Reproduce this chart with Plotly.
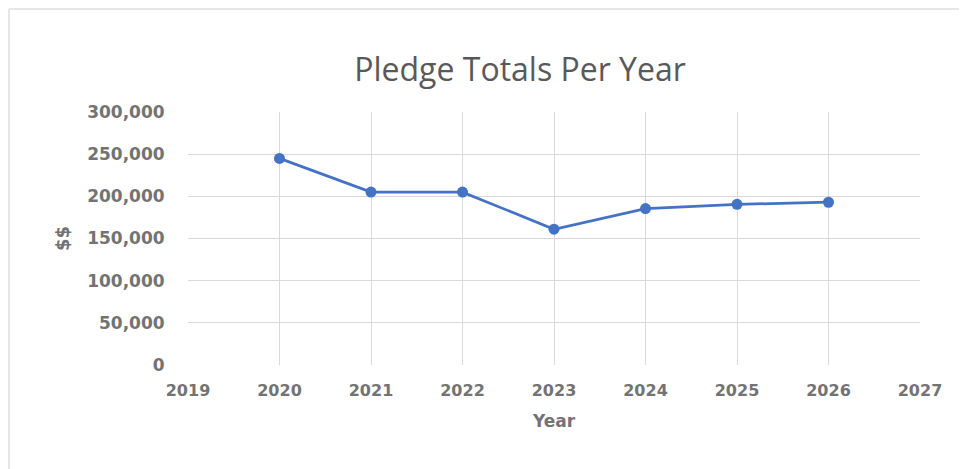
import plotly.graph_objects as go

years = [2020, 2021, 2022, 2023, 2024, 2025, 2026]
pledges = [245000, 205000, 205000, 161000, 185500, 190500, 193000]

title_text = "Pledge Totals Per Year"
x_title = "Year"
y_title = "$$"

# the page adds an 8px body margin, so the figure is sized for the rest of the window
W, H = 959, 461
ml, mr, mt, mb = 180, 47, 104, 104
pw, ph = W - ml - mr, H - mt - mb

grey = "#737373"
bold_font = "DejaVu Sans, Verdana, sans-serif"

fig = go.Figure()
fig.add_trace(go.Scatter(
    x=years, y=pledges, mode="lines+markers",
    line=dict(color="#4472C4", width=2.75),
    marker=dict(color="#4472C4", size=11),
    showlegend=False, hoverinfo="x+y",
))

fig.update_layout(
    width=W, height=H,
    margin=dict(l=ml, r=mr, t=mt, b=mb),
    paper_bgcolor="white", plot_bgcolor="white",
    title=dict(text=title_text, x=512 / W, xanchor="center",
               y=1 - 62 / H, yanchor="middle",
               font=dict(family="Open Sans, Liberation Sans, sans-serif", size=32, color="#595959")),
    xaxis=dict(range=[2019, 2027], dtick=1, tick0=2019, showgrid=True, gridcolor="#D9D9D9",
               gridwidth=1, zeroline=False, showline=False,
               ticks="outside", ticklen=11, tickcolor="rgba(0,0,0,0)",
               tickfont=dict(family=bold_font, size=16, color=grey, weight="bold"),
               title=dict(text=x_title, standoff=15,
                          font=dict(family=bold_font, size=17, color=grey, weight="bold"))),
    yaxis=dict(range=[0, 300000], dtick=50000, showgrid=True, gridcolor="#D9D9D9",
               gridwidth=1, zeroline=False, showline=False,
               ticks="outside", ticklen=19, tickcolor="rgba(0,0,0,0)",
               tickformat=",d",
               tickfont=dict(family=bold_font, size=17, color=grey, weight="bold"),
               title=dict(text=y_title, standoff=12,
                          font=dict(family=bold_font, size=18, color=grey, weight="bold"))),
    shapes=[
        dict(type="line", xref="paper", yref="paper",
             x0=(1 - ml) / pw, x1=(1 - ml) / pw, y0=(H - mb - 1) / ph, y1=(H - mb - H) / ph,
             line=dict(color="#E6E6E6", width=2)),
        dict(type="line", xref="paper", yref="paper",
             x0=(1 - ml) / pw, x1=(W - ml) / pw, y0=(H - mb - 1) / ph, y1=(H - mb - 1) / ph,
             line=dict(color="#E6E6E6", width=2)),
    ],
)

fig.write_html("out.html")
